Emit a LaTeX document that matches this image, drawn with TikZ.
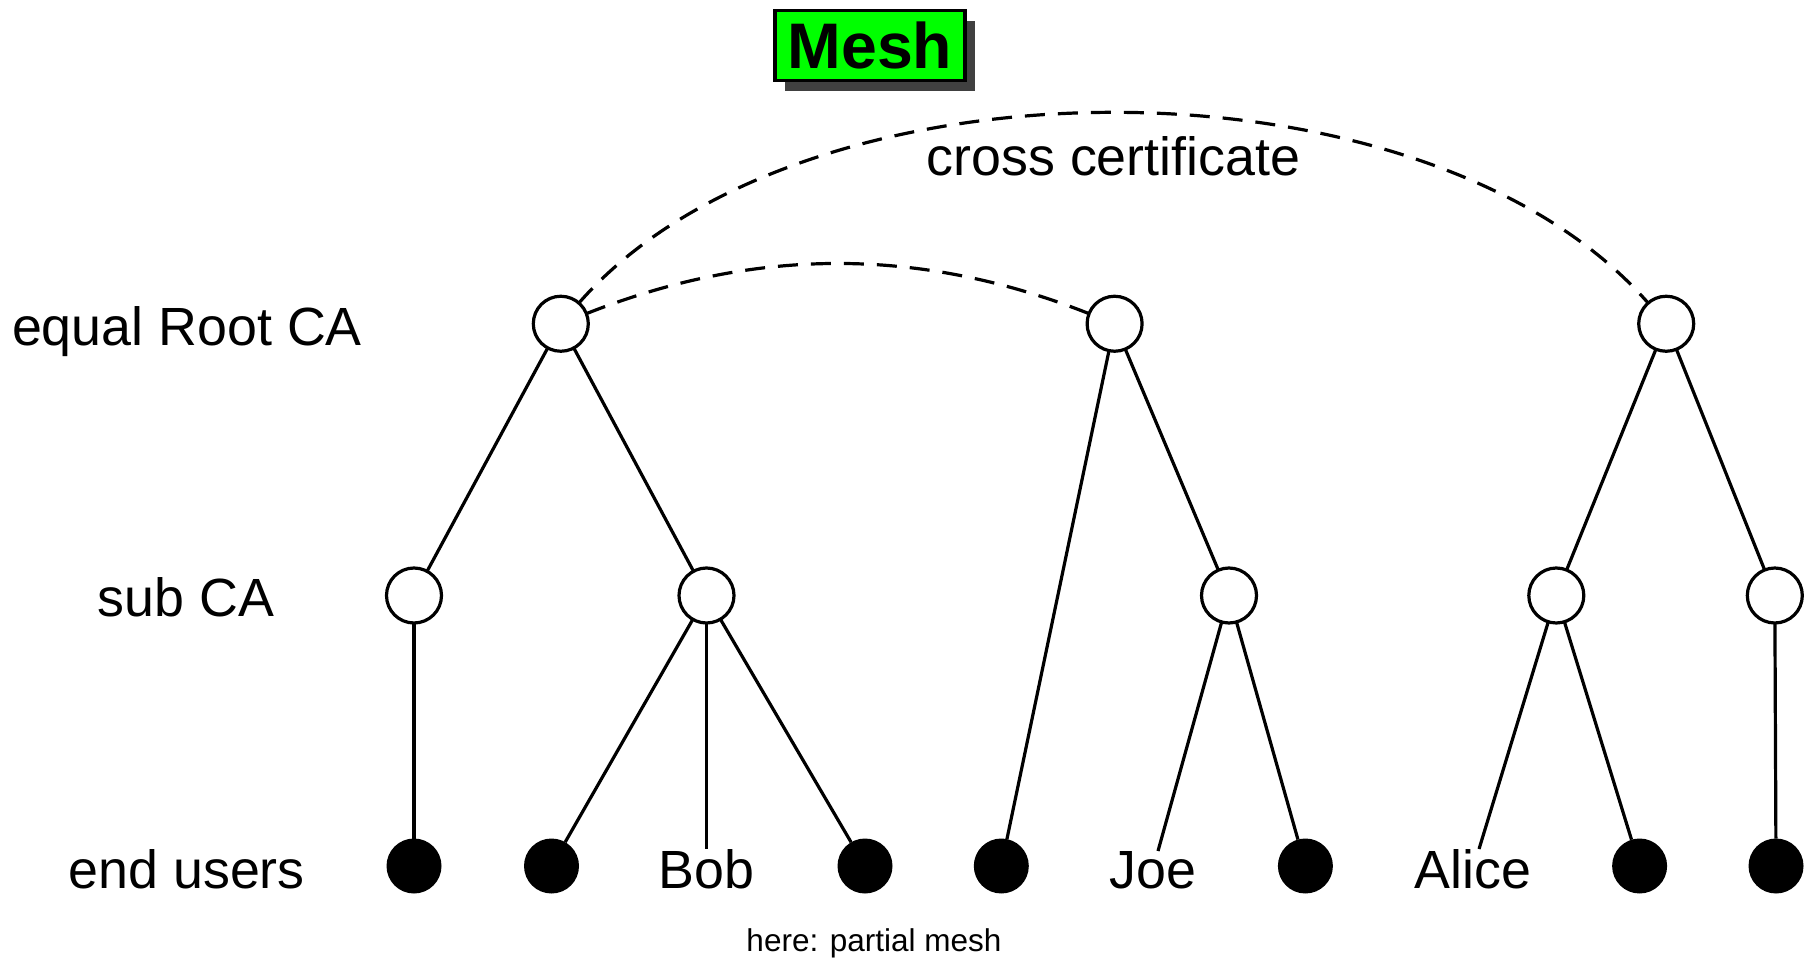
\documentclass[tikz,border=0pt]{standalone}
\usepackage{fontspec}
\setmainfont{Liberation Sans}
\usetikzlibrary{shadows}
\begin{document}
\begin{tikzpicture}[x=0.5pt,y=-0.5pt,
  every node/.style={inner sep=0pt, outer sep=0pt},
  ca/.style={circle, draw, line width=1.6pt, fill=white, minimum size=27.5pt},
  user/.style={circle, fill=black, minimum size=27.5pt},
  lbl/.style={font=\fontsize{26.9pt}{30pt}\selectfont, anchor=base},
  edge/.style={line width=1.6pt},
  crossline/.style={line width=1.6pt, dash pattern=on 10pt off 6.5pt}]
\useasboundingbox[fill=white] (0,0) rectangle (1813,961);

% title
\node (title) [draw, line width=1.6pt, fill={rgb,255:red,0;green,255;blue,0},
  minimum width=95pt, minimum height=35pt,
  font=\fontsize{32.2pt}{34pt}\selectfont\bfseries,
  drop shadow={shadow xshift=5pt, shadow yshift=-5pt, opacity=1, fill=black!75}]
  at (870,45.6) {Mesh};

% row labels
\node (lroot) [lbl] at (187,345.7) {equal Root CA};
\node (lsub)  [lbl] at (186,616.3) {sub CA};
\node (lend)  [lbl] at (186.7,888) {end users};

% root CAs
\node (r1) [ca] at (560.8,323.75) {};
\node (r2) [ca] at (1114.6,323.75) {};
\node (r3) [ca] at (1666.2,323.75) {};

% sub CAs
\node (s1) [ca] at (414,595.5) {};
\node (s2) [ca] at (706.5,595.5) {};
\node (s3) [ca] at (1229,595.5) {};
\node (s4) [ca] at (1556.3,595.5) {};
\node (s5) [ca] at (1774.8,595.5) {};

% end users
\node (u1) [user] at (414,866) {};
\node (u2) [user] at (551.5,866) {};
\node (bob) [lbl] at (706.5,888) {Bob};
\node (u4) [user] at (865,866) {};
\node (u5) [user] at (1001.3,866) {};
\node (joe) [lbl] at (1152.8,888) {Joe};
\node (u6) [user] at (1305.4,866) {};
\node (alice) [lbl] at (1473,888) {Alice};
\node (u7) [user] at (1639.6,866) {};
\node (u8) [user] at (1776,866) {};

% tree edges
\draw[edge] (r1) -- (s1);
\draw[edge] (r1) -- (s2);
\draw[edge] (r2) -- (u5);
\draw[edge] (r2) -- (s3);
\draw[edge] (r3) -- (s4);
\draw[edge] (r3) -- (s5);
\draw[edge] (s1) -- (u1);
\draw[edge] (s2) -- (u2);
\draw[edge] (s2) -- (bob);
\draw[edge] (s2) -- (u4);
\draw[edge] (s3) -- (joe);
\draw[edge] (s3) -- (u6);
\draw[edge] (s4) -- (alice);
\draw[edge] (s4) -- (u7);
\draw[edge] (s5) -- (u8);

% cross certificates
\draw[crossline] (r1) .. controls +(240,-275) and +(-240,-275) .. (r3);
\draw[crossline] (r1) .. controls +(195,-77) and +(-195,-77) .. (r2);
\node (cc) [lbl] at (1113.5,175.7) {cross certificate};

\node (note) [font=\fontsize{15.75pt}{18pt}\selectfont, anchor=base] at (874,951) {here: partial mesh};
\end{tikzpicture}
\end{document}
